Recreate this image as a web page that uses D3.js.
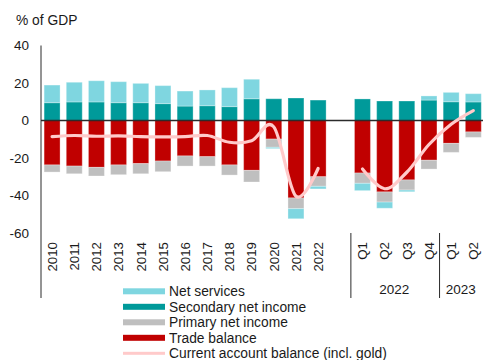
<!DOCTYPE html>
<html>
<head>
<meta charset="utf-8">
<script src="https://cdn.jsdelivr.net/npm/d3@7"></script>
<style>
  html, body { margin: 0; padding: 0; background: #fff; }
  svg { display: block; font-family: "Liberation Sans", Arial, sans-serif; }
</style>
</head>
<body>
<svg id="chart" width="483" height="360"></svg>
<script>
// Period keys (one empty slot separates annual from quarterly data)
const periods = ["2010","2011","2012","2013","2014","2015","2016","2017","2018","2019","2020","2021","2022",
                 "gap","2022Q1","2022Q2","2022Q3","2022Q4","2023Q1","2023Q2"];
const tickLabels = ["2010","2011","2012","2013","2014","2015","2016","2017","2018","2019","2020","2021","2022",
                    "","Q1","Q2","Q3","Q4","Q1","Q2"];
const yearGroups = [
  { label: "2022", from: "2022Q1", to: "2022Q4" },
  { label: "2023", from: "2023Q1", to: "2023Q2" }
];
const yTicks = [40, 20, 0, -20, -40, -60];

// Components, % of GDP
const netServices = [9.4, 10.5, 11.3, 11.2, 10.3, 9.6, 8.0, 8.4, 10.1, 10.4, -0.7, -5.4, -1.4, null,
                     -3.9, -3.3, -0.9, 2.2, 5.0, 4.4];
const secondaryIncome = [9.5, 9.9, 9.9, 9.5, 9.5, 9.0, 7.7, 7.9, 7.4, 11.6, 11.6, 12.0, 10.9, null,
                         11.5, 10.4, 10.4, 10.9, 10.0, 9.9];
const primaryIncome = [-3.8, -4.1, -4.6, -5.2, -5.4, -5.7, -5.4, -5.0, -5.4, -6.2, -4.4, -5.7, -5.1, null,
                       -5.5, -5.4, -5.4, -4.7, -4.8, -2.9];
const tradeBalance = [-23.7, -24.3, -25.0, -23.7, -23.0, -21.6, -18.9, -19.3, -23.7, -26.6, -9.9, -41.3, -30.0, null,
                      -28.0, -38.1, -31.7, -21.2, -12.2, -6.1];
const currentAccount = [-8.6, -8.0, -8.4, -8.2, -8.6, -8.7, -8.6, -8.0, -11.6, -10.8, -3.4, -40.4, -25.6, null,
                        -25.9, -36.4, -27.6, -12.8, -2.0, 5.3];

const colors = {
  services: "#7fd6e0",
  secondary: "#009a9a",
  primary: "#bfbfbf",
  trade: "#c00000",
  current: "#ffcaca"
};

const svg = d3.select("#chart");
const textColor = "#1a1a1a";

const x = d3.scaleBand().domain(periods).range([41, 484.4]).paddingInner(0.28).paddingOuter(0.14);
const y = d3.scaleLinear().domain([-60, 40]).range([233, 45.5]);

// Table of rows for stacking
const rows = periods.map((p, i) => ({
  period: p,
  secondary: secondaryIncome[i] ?? 0,
  trade: tradeBalance[i] ?? 0,
  primary: primaryIncome[i] ?? 0,
  services: netServices[i] ?? 0
})).filter(d => d.period !== "gap");

const keys = ["secondary", "trade", "primary", "services"];
const stacked = d3.stack().keys(keys).offset(d3.stackOffsetDiverging)(rows);

const bars = svg.append("g");
stacked.forEach(series => {
  bars.append("g")
    .attr("fill", colors[series.key])
    .selectAll("rect")
    .data(series.filter(d => d[1] !== d[0]))
    .join("rect")
      .attr("x", d => x(d.data.period))
      .attr("width", x.bandwidth())
      .attr("y", d => y(Math.max(d[0], d[1])))
      .attr("height", d => Math.abs(y(d[0]) - y(d[1])))
      .attr("stroke", "#ffffff")
      .attr("stroke-opacity", 0.3)
      .attr("stroke-width", 1);
});

// Zero line
svg.append("line")
  .attr("x1", 41).attr("x2", 483)
  .attr("y1", y(0)).attr("y2", y(0))
  .attr("stroke", "#2b2b2b").attr("stroke-width", 1.5);

// Current account line, drawn as two separate smoothed segments
const cx = p => x(p) + x.bandwidth() / 2;
const linePts = periods.map((p, i) => ({ p, v: currentAccount[i] }));
const line = d3.line()
  .defined(d => d.v !== null)
  .x(d => cx(d.p))
  .y(d => y(d.v))
  .curve(d3.curveCatmullRom.alpha(0));
svg.append("path")
  .datum(linePts)
  .attr("fill", "none")
  .attr("stroke", colors.current)
  .attr("stroke-width", 3.2)
  .attr("stroke-linecap", "round")
  .attr("d", line);

// Y axis
svg.append("line")
  .attr("x1", 41).attr("x2", 41)
  .attr("y1", y(40)).attr("y2", 298)
  .attr("stroke", "#2b2b2b").attr("stroke-width", 1);

svg.append("g").selectAll("text")
  .data(yTicks)
  .join("text")
    .attr("x", 29)
    .attr("y", d => y(d))
    .attr("dy", "0.36em")
    .attr("text-anchor", "end")
    .attr("font-size", 13.5)
    .attr("fill", textColor)
    .text(d => d);

svg.append("text")
  .attr("x", 16).attr("y", 25)
  .attr("font-size", 13.8)
  .attr("fill", textColor)
  .text("% of GDP");

// Rotated category labels
svg.append("g").selectAll("text")
  .data(periods.map((p, i) => ({ p, label: tickLabels[i] })).filter(d => d.label))
  .join("text")
    .attr("transform", d => `translate(${cx(d.p)},242) rotate(-90)`)
    .attr("dy", "0.36em")
    .attr("text-anchor", "end")
    .attr("font-size", 13.3)
    .attr("fill", textColor)
    .text(d => d.label);

// Group separators and year labels under the quarters
const sepXs = [x("2022Q1") - x.step() * x.paddingInner() / 2 - 0.5,
               x("2023Q1") - x.step() * x.paddingInner() / 2 - 0.5];
svg.append("g").selectAll("line")
  .data(sepXs)
  .join("line")
    .attr("x1", d => d).attr("x2", d => d)
    .attr("y1", 233).attr("y2", 298)
    .attr("stroke", "#2b2b2b").attr("stroke-width", 1);

svg.append("g").selectAll("text")
  .data(yearGroups)
  .join("text")
    .attr("x", d => (x(d.from) + x(d.to) + x.bandwidth()) / 2 - 1.5)
    .attr("y", 293.5)
    .attr("text-anchor", "middle")
    .attr("font-size", 13.5)
    .attr("fill", textColor)
    .text(d => d.label);

// Legend
const legendItems = [
  { label: "Net services", color: colors.services, type: "box" },
  { label: "Secondary net income", color: colors.secondary, type: "box" },
  { label: "Primary net income", color: colors.primary, type: "box" },
  { label: "Trade balance", color: colors.trade, type: "box" },
  { label: "Current account balance (incl. gold)", color: colors.current, type: "line" }
];
const legend = svg.append("g").attr("transform", "translate(123,291.3)");
const item = legend.selectAll("g")
  .data(legendItems)
  .join("g")
    .attr("transform", (d, i) => `translate(0,${i * 15.5})`);
item.filter(d => d.type === "box").append("rect")
  .attr("x", 0).attr("y", -3).attr("width", 42).attr("height", 6)
  .attr("fill", d => d.color);
item.filter(d => d.type === "line").append("rect")
  .attr("x", 0).attr("y", -1.5).attr("width", 42).attr("height", 3)
  .attr("fill", d => d.color);
item.append("text")
  .attr("x", 46).attr("y", 0).attr("dy", "0.36em")
  .attr("font-size", 13.8)
  .attr("fill", textColor)
  .text(d => d.label);
</script>
</body>
</html>
